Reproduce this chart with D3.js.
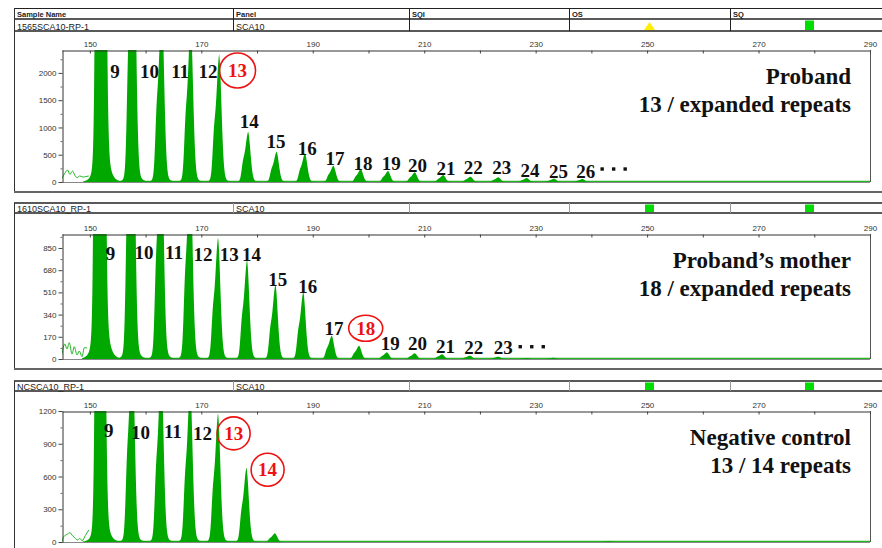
<!DOCTYPE html>
<html>
<head>
<meta charset="utf-8">
<script src="https://cdn.jsdelivr.net/npm/d3@7"></script>
<style>
  body { margin: 0; background: #fff; }
  svg { display: block; }
</style>
</head>
<body>
<svg id="chart" width="882" height="548"></svg>
<script>
// ---- header table ----
var columnNames = ["Sample Name", "Panel", "SQI", "OS", "SQ"];
var sampleNames = ["1565SCA10-RP-1", "1610SCA10_RP-1", "NCSCA10_RP-1"];
var panelNames = ["SCA10", "SCA10", "SCA10"];
var osFlags = ["check", "pass", "pass"];
var sqFlags = ["pass", "pass", "pass"];

// ---- size axis (bp) ----
var sizeTicks = d3.range(150, 291, 10);
var sizeLabels = [150, 170, 190, 210, 230, 250, 270, 290];

// ---- panel 1 : proband ----
var rfuMax1 = 2420;
var rfuTicks1 = [0, 500, 1000, 1500, 2000];
var rfuMinor1 = [250, 750, 1250, 1750, 2250];
var peakBp1 = [152.2, 157.8, 162.9, 168.1, 173.2, 178.4, 183.5, 188.6, 193.7, 198.6, 203.5, 208.3, 213.4, 218.3, 223.3, 228.4, 233.3, 238.4];
var peakRfu1 = [25700, 5770, 3310, 2920, 2341, 922, 556, 526, 299, 238, 202, 178, 128, 97, 86, 73, 61, 55];
var repeats1 = [9, 10, 11, 12, 13, 14, 15, 16, 17, 18, 19, 20, 21, 22, 23, 24, 25, 26];
var labelBp1 = [154.5, 160.7, 166.2, 171.2, 176.5, 178.6, 183.4, 189.0, 194.0, 199.0, 204.1, 208.8, 213.9, 218.8, 223.9, 229.0, 234.1, 239.0];
var labelRfu1 = [2030, 2030, 2030, 2030, 2044, 1105, 742, 623, 427, 334, 343, 302, 257, 266, 266, 220, 202, 202];
var circled1 = [13];
var more1 = [244.0, 238];
var noise1 = [[145.0, 70], [145.5, 160], [146.0, 220], [146.4, 140], [146.9, 200], [147.3, 125], [147.7, 80], [148.2, 110], [148.8, 90], [149.3, 100], [149.8, 110]];
var title1 = ["Proband", "13 / expanded repeats"];

// ---- panel 2 : proband's mother ----
var rfuMax2 = 957;
var rfuTicks2 = [0, 170, 340, 510, 680, 850];
var rfuMinor2 = [85, 255, 425, 595, 765, 935];
var peakBp2 = [152.0, 157.6, 162.8, 168.0, 173.0, 178.2, 183.3, 188.3, 193.4, 198.3, 203.3, 208.3, 213.2, 218.2, 223.3, 228.4, 233.2];
var peakRfu2 = [14350, 2920, 1840, 1530, 929, 758, 572, 515, 179, 102, 51, 44, 36, 26, 18, 8, 10];
var repeats2 = [9, 10, 11, 12, 13, 14, 15, 16, 17, 18, 19, 20, 21, 22, 23];
var labelBp2 = [153.7, 159.7, 165.1, 170.3, 175.0, 179.0, 183.7, 189.1, 193.8, 199.5, 203.9, 208.8, 213.8, 218.9, 224.2];
var labelRfu2 = [806, 815, 815, 805, 800, 800, 611, 560, 237, 235, 116, 116, 96, 88, 88];
var circled2 = [18];
var more2 = [229.3, 94];
var noise2 = [[145.0, 36], [145.5, 115], [145.9, 77], [146.3, 125], [146.8, 38], [147.2, 94], [147.7, 31], [148.1, 61], [148.6, 18], [149.0, 87], [149.5, 84]];
var title2 = ["Proband\u2019s mother", "18 / expanded repeats"];

// ---- panel 3 : negative control ----
var rfuMax3 = 1200;
var rfuTicks3 = [0, 300, 600, 900, 1200];
var rfuMinor3 = [150, 450, 750, 1050];
var peakBp3 = [152.1, 157.6, 162.8, 168.0, 173.0, 178.1, 183.2, 243.3];
var peakRfu3 = [9000, 1910, 1640, 1450, 1179, 681, 80, 8];
var repeats3 = [9, 10, 11, 12, 13, 14];
var labelBp3 = [153.4, 159.1, 164.9, 170.2, 175.8, 181.9];
var labelRfu3 = [1026, 1006, 1015, 992, 995, 662];
var circled3 = [13, 14];
var more3 = null;
var noise3 = [[145.0, 3], [145.3, 48], [145.9, 70], [146.4, 85], [146.9, 57], [147.3, 39], [147.8, 18], [148.2, 33], [148.6, 12], [149.2, 60], [149.8, 110]];
var title3 = ["Negative control", "13 / 14 repeats"];

// build panel objects from the arrays
function buildPanel(max, ticks, minor, bp, rfu, reps, lbp, lrfu, circ, more, noise, title) {
  return {
    max: max, ticks: ticks, minor: minor,
    peaks: bp.map((b, i) => ({bp: b, rfu: rfu[i]})),
    labels: reps.map((r, i) => ({text: String(r), bp: lbp[i], rfu: lrfu[i], circled: circ.indexOf(r) >= 0})),
    more: more, noise: noise, title: title
  };
}
var panels = [
  buildPanel(rfuMax1, rfuTicks1, rfuMinor1, peakBp1, peakRfu1, repeats1, labelBp1, labelRfu1, circled1, more1, noise1, title1),
  buildPanel(rfuMax2, rfuTicks2, rfuMinor2, peakBp2, peakRfu2, repeats2, labelBp2, labelRfu2, circled2, more2, noise2, title2),
  buildPanel(rfuMax3, rfuTicks3, rfuMinor3, peakBp3, peakRfu3, repeats3, labelBp3, labelRfu3, circled3, more3, noise3, title3)
];

// page layout
var layout = [
  {headTop: 8, rowTop: 19, rowBottom: 31, plotTop: 50, plotBottom: 182, boxBottom: 192, rx: 18, ry: 17.5},
  {headTop: 203, rowTop: 203, rowBottom: 213, plotTop: 234, plotBottom: 359, boxBottom: 369, rx: 17, ry: 13},
  {headTop: 381, rowTop: 381, rowBottom: 391, plotTop: 411, plotBottom: 542, boxBottom: 560, rx: 16.5, ry: 16.5}
];
var cols = [14, 233, 409, 569, 730, 889];
var green = "#00a800";
var traceGreen = "#22b622";
var sans = "'Liberation Sans', Arial, sans-serif";
var serif = "'Liberation Serif', 'Times New Roman', serif";

var svg = d3.select("#chart");
var x = d3.scaleLinear().domain([145, 290]).range([62, 870]);

// capillary peak outline (shape only; height and position come from data)
function peakShape(d) {
  var s = d < 0 ? 0.55 : 0.42;
  var core = Math.exp(-0.5 * (d / s) * (d / s));
  var wing = 0.15 * Math.exp(-Math.abs(d) / 0.6);
  var shoulder = 0.22 * Math.exp(-0.5 * Math.pow((d + 0.95) / 0.25, 2));
  return (core + wing + shoulder) / 1.15;
}
var offsets = d3.range(-3.4, 3.4001, 0.02);

panels.forEach(function(P, i) {
  var L = layout[i];
  var y = d3.scaleLinear().domain([0, P.max]).range([L.plotBottom, L.plotTop]);
  var pg = svg.append("g");

  // ---- header table ----
  var head = pg.append("g");
  if (i === 0) {
    head.append("line").attr("x1", cols[0]).attr("x2", 882).attr("y1", L.headTop + 0.5).attr("y2", L.headTop + 0.5)
      .attr("stroke", "#222").attr("stroke-width", 1);
    head.selectAll(".colname").data(columnNames).enter().append("text")
      .attr("x", (d, k) => cols[k] + 3).attr("y", L.rowTop - 2)
      .attr("font-family", sans).attr("font-size", 7.5).attr("font-weight", "bold").attr("fill", "#222")
      .text(d => d);
  }
  head.append("line").attr("x1", cols[0]).attr("x2", 882).attr("y1", L.rowTop).attr("y2", L.rowTop)
    .attr("stroke", "#222").attr("stroke-width", 1.6);
  head.append("line").attr("x1", cols[0]).attr("x2", 882).attr("y1", L.rowBottom).attr("y2", L.rowBottom)
    .attr("stroke", "#222").attr("stroke-width", 1.6);
  head.selectAll(".sep").data(cols.slice(1, 5)).enter().append("line")
    .attr("x1", d => d + 0.5).attr("x2", d => d + 0.5)
    .attr("y1", L.headTop).attr("y2", L.rowBottom)
    .attr("stroke", i === 0 ? "#222" : "#999").attr("stroke-width", 1);
  head.append("text").attr("x", cols[0] + 3).attr("y", L.rowBottom - 1.5)
    .attr("font-family", sans).attr("font-size", 9).attr("fill", "#222").text(sampleNames[i]);
  head.append("text").attr("x", cols[1] + 3).attr("y", L.rowBottom - 1.5)
    .attr("font-family", sans).attr("font-size", 9).attr("fill", "#222").text(panelNames[i]);

  // quality flags
  [[osFlags[i], (cols[3] + cols[4]) / 2], [sqFlags[i], (cols[4] + cols[5]) / 2]].forEach(function(f) {
    var cx = f[1];
    if (f[0] === "check") {
      head.append("path")
        .attr("d", "M" + (cx - 5.5) + "," + (L.rowBottom - 1) + "L" + cx + "," + (L.rowTop + 3) + "L" + (cx + 5.5) + "," + (L.rowBottom - 1) + "Z")
        .attr("fill", "#ffee00");
    } else {
      head.append("rect").attr("x", cx - 4.5).attr("y", L.rowTop + 1.5).attr("width", 9).attr("height", L.rowBottom - L.rowTop - 2.5)
        .attr("fill", "#00dd00");
    }
  });

  // ---- panel box ----
  pg.append("line").attr("x1", cols[0] + 0.5).attr("x2", cols[0] + 0.5).attr("y1", L.headTop).attr("y2", L.boxBottom)
    .attr("stroke", "#333").attr("stroke-width", 1);
  pg.append("line").attr("x1", cols[0]).attr("x2", 882).attr("y1", L.boxBottom).attr("y2", L.boxBottom)
    .attr("stroke", "#666").attr("stroke-width", 2);

  // ---- plot ----
  svg.append("clipPath").attr("id", "clip" + i).append("rect")
    .attr("x", x.range()[0]).attr("y", L.plotTop)
    .attr("width", x.range()[1] - x.range()[0]).attr("height", L.plotBottom - L.plotTop);

  pg.append("line").attr("x1", x.range()[0]).attr("x2", x.range()[1]).attr("y1", L.plotBottom + 0.5).attr("y2", L.plotBottom + 0.5)
    .attr("stroke", "#888").attr("stroke-width", 1);
  pg.append("line").attr("x1", x.range()[1] + 0.5).attr("x2", x.range()[1] + 0.5).attr("y1", L.plotTop).attr("y2", L.plotBottom)
    .attr("stroke", "#555").attr("stroke-width", 1);

  var plot = pg.append("g").attr("clip-path", "url(#clip" + i + ")");

  // baseline trace
  plot.append("path").datum([[150, 0], [290, 0]])
    .attr("d", d3.line().x(d => x(d[0])).y(d => y(d[1]) - 0.5))
    .attr("fill", "none").attr("stroke", traceGreen).attr("stroke-width", 1.4);

  // primer-dimer noise before the analysis range
  plot.append("path").datum(P.noise)
    .attr("d", d3.line().x(d => x(d[0])).y(d => y(d[1])).curve(d3.curveMonotoneX))
    .attr("fill", "none").attr("stroke", traceGreen).attr("stroke-width", 1);

  // peaks
  var area = d3.area().x(d => x(d[0])).y0(y(0)).y1(d => y(d[1]));
  plot.selectAll(".peak").data(P.peaks).enter().append("path")
    .attr("class", "peak")
    .attr("d", p => area(offsets.map(o => [p.bp + o, p.rfu * peakShape(o)])))
    .attr("fill", green);

  // axes
  var top = d3.axisTop(x).tickValues(sizeTicks).tickSizeInner(-3).tickSizeOuter(0).tickPadding(4)
    .tickFormat(v => sizeLabels.indexOf(v) >= 0 ? v : "");
  var gx = pg.append("g").attr("transform", "translate(0," + (L.plotTop + 0.5) + ")").call(top);
  gx.select(".domain").attr("stroke", "#333");
  gx.selectAll(".tick line").attr("stroke", "#444");
  gx.selectAll("text").attr("font-family", sans).attr("font-size", 8).attr("fill", "#333");

  var left = d3.axisLeft(y).tickValues(P.ticks).tickSize(4).tickPadding(2).tickSizeOuter(0).tickFormat(d3.format("d"));
  var gy = pg.append("g").attr("transform", "translate(" + (x.range()[0] + 0.5) + ",0)").call(left);
  gy.select(".domain").attr("stroke", "#333");
  gy.selectAll(".tick line").attr("stroke", "#444");
  gy.selectAll("text").attr("font-family", sans).attr("font-size", 8).attr("fill", "#333");
  var gm = pg.append("g").attr("transform", "translate(" + (x.range()[0] + 0.5) + ",0)")
    .call(d3.axisLeft(y).tickValues(P.minor).tickSize(2).tickSizeOuter(0).tickFormat(""));
  gm.select(".domain").remove();
  gm.selectAll(".tick line").attr("stroke", "#666");

  // repeat-number labels
  var lab = pg.append("g").attr("font-family", serif).attr("font-weight", "bold").attr("font-size", 19);
  lab.selectAll(".rep").data(P.labels).enter().append("text")
    .attr("x", d => x(d.bp)).attr("y", d => y(d.rfu)).attr("dy", "0.35em")
    .attr("text-anchor", "middle")
    .attr("fill", d => d.circled ? "#ee1111" : "#111")
    .text(d => d.text);
  lab.selectAll(".ring").data(P.labels.filter(d => d.circled)).enter().append("ellipse")
    .attr("cx", d => x(d.bp)).attr("cy", d => y(d.rfu))
    .attr("rx", L.rx).attr("ry", L.ry)
    .attr("fill", "none").attr("stroke", "#ee1111").attr("stroke-width", 1.6);
  if (P.more) {
    lab.selectAll(".dot").data([-1, 0, 1]).enter().append("rect")
      .attr("x", k => x(P.more[0]) + k * 11.5 - 1.7).attr("y", y(P.more[1]) - 1.7)
      .attr("width", 3.4).attr("height", 3.4).attr("fill", "#111");
  }

  // sample title
  pg.append("g").selectAll("text").data(P.title).enter().append("text")
    .attr("x", 851).attr("y", (d, k) => L.plotTop + 34 + k * 28)
    .attr("text-anchor", "end")
    .attr("font-family", serif).attr("font-weight", "bold").attr("font-size", 23).attr("fill", "#111")
    .text(d => d);
});
</script>
</body>
</html>
